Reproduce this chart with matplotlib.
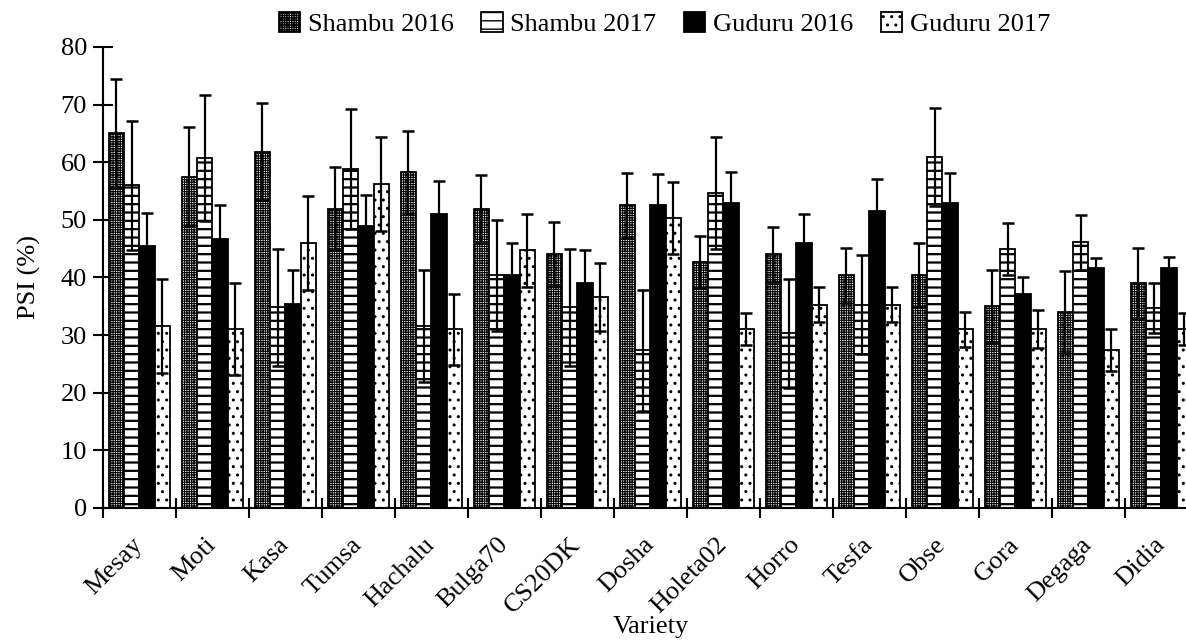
import numpy as np
import matplotlib
matplotlib.use("Agg")
import matplotlib.pyplot as plt
from matplotlib.ticker import FixedLocator

# ==========================================
# DATA
# ==========================================

varieties = ["Mesay", "Moti", "Kasa", "Tumsa", "Hachalu", "Bulga70", "CS20DK",
             "Dosha", "Holeta02", "Horro", "Tesfa", "Obse", "Gora", "Degaga", "Didia"]

series_names = ["Shambu 2016", "Shambu 2017", "Guduru 2016", "Guduru 2017"]

shambu_2016 = [65.0, 57.5, 61.8, 51.9, 58.3, 51.9, 44.1, 52.5, 42.7, 44.0, 40.4, 40.4, 35.0, 34.0, 39.0]
shambu_2016_err = [9.5, 8.6, 8.4, 7.2, 7.2, 5.9, 5.5, 5.6, 4.5, 4.8, 4.8, 5.6, 6.3, 7.1, 6.2]

shambu_2017 = [56.0, 60.7, 34.8, 58.8, 31.6, 40.4, 34.8, 27.4, 54.6, 30.3, 35.3, 60.9, 45.0, 46.1, 34.7]
shambu_2017_err = [11.2, 10.9, 10.1, 10.4, 9.7, 9.6, 10.1, 10.5, 9.7, 9.4, 8.6, 8.5, 4.5, 4.8, 4.3]

guduru_2016 = [45.5, 46.7, 35.4, 49.0, 51.1, 40.4, 39.0, 52.5, 52.9, 46.0, 51.6, 52.9, 37.1, 41.6, 41.6]
guduru_2016_err = [5.7, 5.8, 5.9, 5.4, 5.6, 5.6, 5.8, 5.4, 5.4, 5.1, 5.5, 5.2, 2.9, 1.8, 2.0]

guduru_2017 = [31.6, 31.0, 46.0, 56.2, 31.0, 44.7, 36.6, 50.3, 31.0, 35.3, 35.3, 31.0, 31.0, 27.4, 31.0]
guduru_2017_err = [8.1, 8.0, 8.2, 8.2, 6.1, 6.3, 5.9, 6.2, 2.8, 3.1, 3.1, 3.0, 3.3, 3.7, 2.8]

y_ticks = [0, 10, 20, 30, 40, 50, 60, 70, 80]

# ==========================================
# STYLE
# ==========================================

plt.rcParams["font.family"] = ["Liberation Serif", "DejaVu Serif"]
plt.rcParams["font.size"] = 19
plt.rcParams["hatch.color"] = "black"

values = [shambu_2016, shambu_2017, guduru_2016, guduru_2017]
errors = [shambu_2016_err, shambu_2017_err, guduru_2016_err, guduru_2017_err]
hatches = ["+++++++", "--", None, ".."]
faces = ["white", "white", "black", "white"]
hatch_lw = [0.8, 1.6, 1.0, 1.0]

fig = plt.figure(figsize=(11.86, 6.41), dpi=100)
ax = fig.add_axes([0.0868, 0.2075, 0.9233, 0.7192])

x = np.arange(len(varieties))
width = 0.21
offsets = (np.arange(4) - 1.5) * width

handles = []
for i in range(4):
    bars = ax.bar(x + offsets[i], values[i], width, color=faces[i], edgecolor="black",
                  linewidth=1.3, hatch=hatches[i], label=series_names[i], zorder=2)
    for b in bars:
        try:
            b.set_hatch_linewidth(hatch_lw[i])
        except AttributeError:
            pass
    handles.append(bars)
    ax.errorbar(x + offsets[i], values[i], yerr=errors[i], fmt="none", ecolor="black",
                elinewidth=1.6, capsize=4, capthick=1.8, zorder=3)

# axes look
ax.set_xlim(-0.5, len(varieties) - 0.5)
ax.set_ylim(0, 80)
ax.spines["top"].set_visible(False)
ax.spines["right"].set_visible(False)
for s in ["left", "bottom"]:
    ax.spines[s].set_linewidth(1.5)

ax.set_yticks(y_ticks)
ax.tick_params(axis="y", direction="inout", length=15, width=1.5, pad=4)

ax.set_xticks(x)
ax.set_xticklabels(varieties, rotation=45, ha="right", va="center", rotation_mode="anchor")
ax.xaxis.set_minor_locator(FixedLocator(np.arange(len(varieties) + 1) - 0.5))
ax.tick_params(axis="x", which="major", length=0, pad=24)
ax.tick_params(axis="x", which="minor", direction="inout", length=15, width=1.5)

ax.set_ylabel("PSI (%)", labelpad=14)
ax.set_xlabel("Variety", labelpad=-1)

ax.legend(handles=handles, loc="lower center", bbox_to_anchor=(0.513, 0.995), ncol=4,
          frameon=False, handlelength=0.8, handleheight=0.8, handletextpad=0.3,
          columnspacing=1.05, borderaxespad=0.1)

fig.savefig("out.png", dpi=100)
